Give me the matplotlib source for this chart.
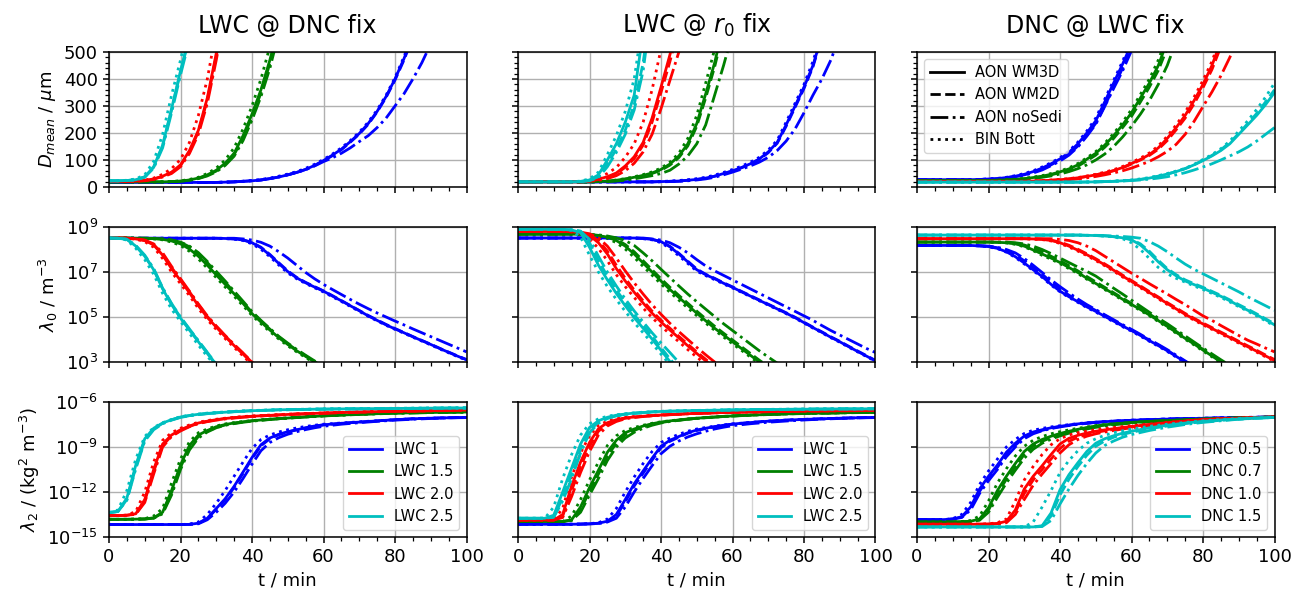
import numpy as np
import matplotlib.pyplot as plt
from matplotlib.lines import Line2D
from matplotlib.ticker import MultipleLocator, AutoMinorLocator, NullLocator, FixedLocator

# model output times (min)
t = np.arange(0, 100.01, 2.5)
t_l2 = np.r_[np.arange(0, 60.01, 2.5), np.arange(65, 100.01, 5)]

# every run: [AON WM3D, AON WM2D, AON noSedi, BIN Bott]
# Dmean (um), sampled on t until the curve leaves the 500 um axis

# LWC @ DNC fix
dm_dnc_lwc1 = [
    [17] * 13 + [18, 19, 21, 23, 26, 31, 37, 45, 54, 65, 80, 98, 118, 140, 168, 198, 235, 280, 335, 400, 475, 560],
    [17] * 13 + [18, 19, 21, 23, 26, 31, 37, 45, 54, 65, 79, 97, 116, 138, 166, 196, 232, 278, 332, 396, 470, 555],
    [17] * 13 + [18, 19, 21, 23, 26, 31, 37, 45, 54, 64, 78, 94, 108, 125, 145, 168, 190, 220, 255, 300, 345, 400, 460, 530],
    [17] * 13 + [18, 19.5, 21.5, 24, 28, 33, 40, 48, 57, 69, 84, 102, 122, 145, 172, 203, 240, 285, 340, 405, 482, 570],
]
dm_dnc_lwc15 = [
    [19] * 7 + [20, 22, 26, 33, 45, 62, 88, 125, 190, 270, 360, 470, 600],
    [19] * 7 + [20, 22, 25, 32, 43, 59, 84, 120, 182, 260, 348, 458, 590],
    [19] * 7 + [20, 21, 25, 31, 41, 56, 80, 114, 172, 248, 335, 440, 570],
    [19] * 7 + [20, 23, 28, 36, 50, 70, 100, 145, 215, 300, 400, 520],
]
dm_dnc_lwc20 = [
    [21, 21, 21, 22, 24, 30, 40, 55, 82, 135, 210, 330, 495, 680],
    [21, 21, 21, 22, 24, 29, 39, 53, 79, 130, 205, 322, 485, 670],
    [21, 21, 21, 22, 23, 28, 37, 50, 75, 124, 195, 310, 470, 650],
    [21, 21, 21, 22, 25, 33, 47, 68, 102, 165, 265, 400, 580],
]
dm_dnc_lwc25 = [
    [23, 23, 24, 27, 38, 75, 155, 290, 430, 560],
    [23, 23, 24, 27, 37, 73, 152, 285, 425, 555],
    [23, 23, 24, 26, 36, 70, 145, 275, 415, 545],
    [23, 23, 25, 30, 45, 95, 195, 340, 470, 620],
]

# LWC @ r0 fix
dm_r0_lwc1 = [
    [19] * 15 + [19, 20, 21, 22, 25, 28, 33, 40, 50, 60, 72, 86, 104, 130, 165, 230, 300, 370, 450, 560],
    [19] * 15 + [19, 20, 21, 22, 25, 28, 33, 40, 49, 59, 71, 85, 102, 127, 162, 225, 295, 365, 445, 555],
    [19] * 15 + [19, 19, 20, 21, 23, 26, 30, 36, 45, 55, 66, 78, 92, 110, 135, 170, 215, 275, 340, 400, 470, 560],
    [19] * 15 + [19.5, 20.5, 22, 24, 27, 31, 36, 44, 54, 65, 77, 92, 110, 137, 173, 240, 310, 380, 465, 570],
]
dm_r0_lwc15 = [
    [19] * 9 + [20, 22, 25, 30, 36, 43, 52, 65, 85, 115, 160, 235, 345, 460, 600],
    [19] * 9 + [20, 21, 24, 29, 34, 41, 50, 62, 81, 109, 152, 225, 330, 445, 580],
    [19] * 9 + [19, 20, 22, 25, 30, 36, 42, 50, 62, 85, 115, 160, 230, 340, 450, 570],
    [19] * 9 + [20, 22, 26, 31, 38, 46, 56, 70, 92, 125, 180, 265, 385, 510],
]
dm_r0_lwc20 = [
    [19] * 7 + [20, 23, 29, 38, 52, 78, 112, 165, 255, 370, 490, 620],
    [19] * 7 + [20, 22, 28, 36, 49, 73, 105, 155, 240, 350, 465, 590],
    [19] * 7 + [19, 21, 25, 31, 42, 60, 88, 130, 195, 290, 395, 500, 620],
    [19] * 7 + [21, 26, 35, 50, 72, 110, 160, 240, 360, 510],
]
dm_r0_lwc25 = [
    [19] * 7 + [21, 26, 45, 100, 160, 240, 340, 575],
    [19] * 7 + [20, 24, 38, 85, 140, 210, 305, 460, 700],
    [19] * 7 + [20, 23, 35, 75, 128, 195, 285, 430, 680],
    [19] * 7 + [22, 30, 55, 120, 190, 280, 400, 620],
]

# DNC @ LWC fix
dm_lwc_dnc05 = [
    [27] * 7 + [28, 29, 31, 35, 40, 47, 57, 70, 86, 104, 128, 160, 200, 245, 315, 385, 455, 530],
    [27] * 7 + [28, 29, 31, 34, 39, 45, 54, 66, 82, 100, 122, 152, 192, 236, 300, 370, 440, 515],
    [27] * 7 + [28, 29, 30, 33, 38, 44, 52, 63, 79, 96, 118, 148, 188, 232, 298, 365, 430, 505],
    [27] * 7 + [28, 30, 32, 36, 42, 50, 60, 74, 90, 108, 133, 166, 207, 255, 325, 395, 465, 545],
]
dm_lwc_dnc07 = [
    [24] * 9 + [25, 26, 28, 31, 35, 40, 47, 56, 67, 82, 103, 125, 155, 190, 230, 275, 330, 385, 450, 540],
    [24] * 9 + [25, 26, 27, 30, 34, 38, 45, 53, 63, 77, 97, 118, 147, 180, 220, 262, 315, 370, 432, 515],
    [24] * 9 + [24, 25, 27, 29, 32, 36, 41, 48, 57, 68, 82, 100, 122, 150, 185, 225, 270, 320, 380, 450, 540],
    [24] * 9 + [25, 27, 29, 32, 37, 42, 50, 59, 71, 87, 108, 131, 162, 198, 240, 287, 343, 400, 470, 560],
]
dm_lwc_dnc10 = [
    [21] * 13 + [22, 23, 25, 27, 30, 34, 39, 45, 52, 61, 72, 87, 102, 120, 145, 180, 220, 265, 320, 380, 450, 540],
    [21] * 13 + [22, 23, 25, 27, 30, 34, 39, 45, 52, 60, 71, 85, 100, 117, 140, 172, 212, 255, 308, 368, 435, 520],
    [21] * 13 + [21, 22, 23, 25, 27, 30, 34, 39, 45, 52, 60, 70, 82, 95, 112, 132, 158, 195, 243, 298, 352, 412, 480, 560],
    [21] * 13 + [22, 24, 26, 28, 31, 35, 41, 47, 55, 64, 76, 91, 107, 126, 152, 188, 230, 277, 333, 395, 465, 555],
]
dm_lwc_dnc15 = [
    [18] * 19 + [18.5, 19, 20, 21, 23, 25, 28, 33, 40, 48, 57, 68, 82, 98, 115, 135, 160, 195, 230, 265, 305, 350],
    [18] * 19 + [18.5, 19, 20, 21, 23, 25, 28, 33, 40, 48, 57, 68, 82, 99, 117, 138, 165, 198, 235, 272, 315, 360],
    [18] * 19 + [18.5, 19, 20, 21, 22, 24, 26, 29, 33, 38, 45, 53, 63, 74, 86, 100, 115, 130, 148, 170, 195, 220],
    [18] * 19 + [18.5, 19, 20, 22, 24, 26, 30, 35, 42, 50, 59, 69, 84, 102, 120, 142, 170, 207, 245, 287, 333, 385],
]

# lambda_0 as log10 (m^-3), sampled on t until it drops below 1e3

l0_dnc_lwc1 = [
    [8.50] * 13 + [8.49, 8.47, 8.42, 8.30, 8.08, 7.75, 7.38, 7.02, 6.74, 6.52, 6.33, 6.15, 5.93, 5.72, 5.50, 5.28, 5.05, 4.85, 4.65, 4.47, 4.30, 4.12, 3.95, 3.78, 3.60, 3.43, 3.26, 3.10],
    [8.50] * 13 + [8.49, 8.47, 8.43, 8.32, 8.10, 7.78, 7.41, 7.05, 6.76, 6.54, 6.35, 6.16, 5.95, 5.73, 5.51, 5.29, 5.07, 4.87, 4.67, 4.49, 4.31, 4.13, 3.96, 3.79, 3.61, 3.44, 3.27, 3.11],
    [8.50] * 15 + [8.47, 8.42, 8.32, 8.15, 7.90, 7.62, 7.30, 6.98, 6.70, 6.45, 6.22, 6.00, 5.78, 5.57, 5.37, 5.18, 5.00, 4.82, 4.65, 4.47, 4.30, 4.13, 3.96, 3.79, 3.62, 3.45],
    [8.50] * 13 + [8.48, 8.46, 8.40, 8.25, 8.01, 7.68, 7.31, 6.96, 6.70, 6.49, 6.30, 6.11, 5.90, 5.69, 5.47, 5.25, 5.03, 4.83, 4.63, 4.45, 4.28, 4.10, 3.93, 3.76, 3.58, 3.41, 3.24, 3.08],
]
l0_dnc_lwc15 = [
    [8.51, 8.51, 8.51, 8.50, 8.50, 8.48, 8.45, 8.38, 8.25, 8.02, 7.70, 7.30, 6.87, 6.45, 6.03, 5.60, 5.15, 4.78, 4.42, 4.08, 3.78, 3.50, 3.25, 3.00, 2.75],
    [8.51, 8.51, 8.51, 8.50, 8.50, 8.49, 8.47, 8.42, 8.32, 8.12, 7.82, 7.42, 6.98, 6.55, 6.10, 5.66, 5.20, 4.82, 4.46, 4.11, 3.81, 3.53, 3.27, 3.02, 2.78],
    [8.51, 8.51, 8.51, 8.50, 8.50, 8.49, 8.47, 8.42, 8.33, 8.15, 7.86, 7.47, 7.03, 6.60, 6.15, 5.70, 5.24, 4.85, 4.49, 4.14, 3.84, 3.56, 3.30, 3.05, 2.80],
    [8.51, 8.51, 8.51, 8.50, 8.49, 8.47, 8.43, 8.33, 8.18, 7.92, 7.58, 7.17, 6.75, 6.33, 5.92, 5.50, 5.07, 4.70, 4.35, 4.02, 3.72, 3.45, 3.20, 2.95],
]
l0_dnc_lwc20 = [
    [8.51, 8.51, 8.50, 8.47, 8.40, 8.20, 7.75, 7.15, 6.62, 6.08, 5.50, 4.98, 4.55, 4.13, 3.73, 3.35, 2.95],
    [8.51, 8.51, 8.50, 8.47, 8.40, 8.22, 7.80, 7.20, 6.66, 6.12, 5.55, 5.02, 4.58, 4.16, 3.76, 3.38, 2.98],
    [8.51, 8.51, 8.50, 8.48, 8.42, 8.25, 7.85, 7.25, 6.70, 6.15, 5.58, 5.05, 4.60, 4.18, 3.78, 3.40, 3.00, 2.62],
    [8.51, 8.51, 8.50, 8.46, 8.35, 8.10, 7.60, 7.00, 6.48, 5.95, 5.38, 4.88, 4.45, 4.04, 3.65, 3.27, 2.88],
]
l0_dnc_lwc25 = [
    [8.51, 8.50, 8.45, 8.15, 7.70, 7.10, 6.25, 5.55, 4.95, 4.42, 3.90, 3.38, 2.85],
    [8.51, 8.50, 8.45, 8.16, 7.72, 7.12, 6.28, 5.58, 4.98, 4.45, 3.93, 3.41, 2.88],
    [8.51, 8.50, 8.46, 8.18, 7.75, 7.15, 6.30, 5.60, 5.00, 4.47, 3.95, 3.43, 2.90],
    [8.51, 8.50, 8.42, 8.05, 7.55, 6.90, 6.05, 5.35, 4.80, 4.28, 3.75, 3.25, 2.80],
]

l0_r0_lwc1 = [
    [8.51] * 14 + [8.49, 8.45, 8.35, 8.12, 7.80, 7.45, 7.10, 6.88, 6.70, 6.50, 6.32, 6.12, 5.93, 5.74, 5.55, 5.36, 5.17, 4.97, 4.75, 4.53, 4.32, 4.10, 3.90, 3.68, 3.47, 3.26, 3.05],
    [8.51] * 14 + [8.49, 8.45, 8.36, 8.14, 7.83, 7.48, 7.13, 6.90, 6.72, 6.52, 6.34, 6.14, 5.95, 5.76, 5.57, 5.38, 5.19, 4.99, 4.77, 4.55, 4.34, 4.12, 3.92, 3.70, 3.49, 3.28, 3.07],
    [8.51] * 15 + [8.47, 8.42, 8.30, 8.10, 7.85, 7.55, 7.27, 7.05, 6.85, 6.65, 6.45, 6.25, 6.05, 5.85, 5.65, 5.45, 5.25, 5.05, 4.85, 4.62, 4.40, 4.20, 4.00, 3.80, 3.60, 3.42],
    [8.51] * 14 + [8.48, 8.43, 8.30, 8.05, 7.72, 7.38, 7.04, 6.84, 6.66, 6.47, 6.29, 6.10, 5.91, 5.72, 5.53, 5.34, 5.15, 4.95, 4.73, 4.51, 4.30, 4.08, 3.88, 3.66, 3.45, 3.24, 3.03],
]
l0_r0_lwc15 = [
    [8.68] * 8 + [8.66, 8.62, 8.55, 8.40, 8.15, 7.80, 7.40, 7.00, 6.60, 6.22, 5.87, 5.52, 5.17, 4.83, 4.50, 4.20, 3.90, 3.60, 3.30, 3.00, 2.72],
    [8.68] * 8 + [8.66, 8.63, 8.57, 8.45, 8.22, 7.90, 7.50, 7.10, 6.70, 6.32, 5.96, 5.61, 5.26, 4.92, 4.59, 4.28, 3.98, 3.68, 3.38, 3.08, 2.80],
    [8.68] * 8 + [8.67, 8.65, 8.60, 8.52, 8.40, 8.18, 7.85, 7.50, 7.12, 6.75, 6.38, 6.02, 5.68, 5.35, 5.02, 4.70, 4.40, 4.10, 3.80, 3.50, 3.22, 2.95],
    [8.68] * 8 + [8.65, 8.60, 8.50, 8.30, 8.02, 7.65, 7.25, 6.86, 6.47, 6.10, 5.75, 5.40, 5.06, 4.73, 4.41, 4.11, 3.81, 3.52, 3.22, 2.93],
]
l0_r0_lwc20 = [
    [8.80] * 6 + [8.79, 8.75, 8.62, 8.30, 7.80, 7.15, 6.60, 6.10, 5.62, 5.17, 4.78, 4.42, 4.07, 3.72, 3.38, 3.05, 2.75],
    [8.80] * 6 + [8.79, 8.76, 8.66, 8.40, 7.93, 7.30, 6.72, 6.20, 5.72, 5.26, 4.86, 4.50, 4.14, 3.79, 3.45, 3.12, 2.80],
    [8.80] * 6 + [8.79, 8.77, 8.70, 8.52, 8.15, 7.62, 7.05, 6.52, 6.02, 5.55, 5.12, 4.72, 4.35, 4.00, 3.65, 3.32, 3.00, 2.70],
    [8.80] * 6 + [8.78, 8.70, 8.48, 8.05, 7.50, 6.88, 6.35, 5.87, 5.40, 4.97, 4.60, 4.24, 3.90, 3.55, 3.22, 2.90],
]
l0_r0_lwc25 = [
    [8.90] * 5 + [8.89, 8.87, 8.75, 8.10, 7.30, 6.65, 6.05, 5.50, 4.97, 4.50, 4.02, 3.52, 3.02, 2.55],
    [8.90] * 5 + [8.89, 8.87, 8.80, 8.30, 7.50, 6.82, 6.20, 5.65, 5.10, 4.62, 4.14, 3.64, 3.14, 2.68],
    [8.90] * 5 + [8.89, 8.88, 8.82, 8.45, 7.70, 7.00, 6.38, 5.80, 5.27, 4.78, 4.30, 3.85, 3.42, 2.98, 2.55],
    [8.90] * 5 + [8.88, 8.85, 8.55, 7.75, 7.00, 6.35, 5.78, 5.25, 4.75, 4.30, 3.83, 3.35, 2.88],
]

l0_lwc_dnc05 = [
    [8.18] * 7 + [8.16, 8.13, 8.05, 7.90, 7.68, 7.40, 7.10, 6.80, 6.45, 6.15, 5.90, 5.68, 5.45, 5.25, 5.03, 4.82, 4.60, 4.40, 4.18, 3.95, 3.73, 3.50, 3.25, 3.00, 2.75],
    [8.18] * 7 + [8.16, 8.14, 8.08, 7.95, 7.76, 7.50, 7.20, 6.90, 6.56, 6.24, 5.97, 5.74, 5.50, 5.29, 5.07, 4.85, 4.63, 4.42, 4.20, 3.97, 3.75, 3.52, 3.27, 3.02, 2.77],
    [8.18] * 7 + [8.17, 8.15, 8.10, 8.00, 7.85, 7.60, 7.30, 6.98, 6.65, 6.35, 6.07, 5.80, 5.55, 5.33, 5.10, 4.88, 4.66, 4.45, 4.23, 4.00, 3.78, 3.55, 3.30, 3.05, 2.80],
    [8.18] * 7 + [8.16, 8.12, 8.04, 7.88, 7.65, 7.36, 7.06, 6.76, 6.42, 6.12, 5.87, 5.65, 5.42, 5.22, 5.00, 4.79, 4.57, 4.37, 4.15, 3.92, 3.70, 3.47, 3.22, 2.97],
]
l0_lwc_dnc07 = [
    [8.33] * 9 + [8.32, 8.30, 8.25, 8.15, 7.98, 7.80, 7.62, 7.42, 7.20, 6.98, 6.72, 6.49, 6.26, 6.03, 5.79, 5.56, 5.33, 5.09, 4.84, 4.58, 4.32, 4.05, 3.80, 3.53, 3.27, 3.00, 2.75],
    [8.33] * 9 + [8.32, 8.31, 8.28, 8.20, 8.07, 7.90, 7.70, 7.50, 7.28, 7.05, 6.80, 6.56, 6.32, 6.08, 5.84, 5.60, 5.37, 5.13, 4.88, 4.62, 4.36, 4.09, 3.83, 3.56, 3.30, 3.03, 2.78],
    [8.33] * 11 + [8.30, 8.25, 8.15, 8.00, 7.82, 7.62, 7.42, 7.22, 7.03, 6.82, 6.55, 6.28, 6.02, 5.75, 5.48, 5.21, 4.95, 4.70, 4.43, 4.16, 3.89, 3.62, 3.36, 3.10, 2.85],
    [8.33] * 9 + [8.32, 8.29, 8.23, 8.12, 7.95, 7.74, 7.57, 7.37, 7.15, 6.93, 6.68, 6.45, 6.22, 5.99, 5.75, 5.52, 5.29, 5.05, 4.80, 4.54, 4.28, 4.01, 3.76, 3.49, 3.23, 2.96],
]
l0_lwc_dnc10 = [
    [8.48] * 13 + [8.47, 8.45, 8.40, 8.30, 8.15, 7.97, 7.77, 7.55, 7.32, 7.08, 6.82, 6.58, 6.34, 6.09, 5.85, 5.60, 5.36, 5.12, 4.90, 4.69, 4.49, 4.29, 4.09, 3.88, 3.68, 3.48, 3.27, 3.07],
    [8.48] * 13 + [8.47, 8.46, 8.42, 8.33, 8.19, 8.01, 7.81, 7.59, 7.36, 7.12, 6.86, 6.62, 6.38, 6.13, 5.89, 5.64, 5.40, 5.16, 4.94, 4.73, 4.53, 4.33, 4.13, 3.92, 3.72, 3.52, 3.31, 3.11],
    [8.48] * 16 + [8.45, 8.40, 8.30, 8.15, 7.95, 7.70, 7.45, 7.20, 6.95, 6.72, 6.48, 6.25, 6.02, 5.78, 5.55, 5.30, 5.05, 4.85, 4.62, 4.40, 4.18, 3.97, 3.80, 3.62, 3.45],
    [8.48] * 13 + [8.46, 8.44, 8.38, 8.27, 8.11, 7.93, 7.73, 7.51, 7.28, 7.04, 6.78, 6.54, 6.30, 6.05, 5.81, 5.56, 5.32, 5.08, 4.86, 4.65, 4.45, 4.25, 4.05, 3.84, 3.64, 3.44, 3.23, 3.03],
]
l0_lwc_dnc15 = [
    [8.64] * 19 + [8.63, 8.62, 8.60, 8.57, 8.52, 8.43, 8.20, 7.85, 7.45, 7.10, 6.83, 6.60, 6.44, 6.28, 6.10, 5.92, 5.72, 5.50, 5.30, 5.10, 4.88, 4.65],
    [8.64] * 19 + [8.63, 8.62, 8.60, 8.57, 8.53, 8.45, 8.25, 7.92, 7.52, 7.15, 6.88, 6.65, 6.48, 6.32, 6.14, 5.96, 5.76, 5.55, 5.35, 5.14, 4.92, 4.70],
    [8.64] * 19 + [8.63, 8.63, 8.62, 8.60, 8.58, 8.55, 8.50, 8.35, 8.15, 7.90, 7.62, 7.35, 7.12, 6.92, 6.72, 6.52, 6.32, 6.12, 5.90, 5.70, 5.50, 5.30],
    [8.64] * 19 + [8.63, 8.62, 8.60, 8.56, 8.48, 8.30, 8.00, 7.60, 7.20, 6.92, 6.72, 6.55, 6.38, 6.22, 6.05, 5.87, 5.67, 5.46, 5.26, 5.05, 4.83, 4.60],
]

# lambda_2 as log10 (kg^2 m^-3), sampled on t_l2

l2_dnc_lwc1 = [
    [-14.17] * 9 + [-14.16, -14.08, -13.75, -13.10, -12.45, -11.62, -10.67, -9.70, -8.85, -8.40, -8.15, -7.98, -7.85, -7.72, -7.60, -7.52, -7.42, -7.34, -7.26, -7.18, -7.12, -7.08, -7.05, -7.03],
    [-14.17] * 9 + [-14.16, -14.09, -13.78, -13.15, -12.50, -11.70, -10.75, -9.78, -8.92, -8.45, -8.18, -8.00, -7.86, -7.73, -7.61, -7.53, -7.42, -7.34, -7.26, -7.18, -7.12, -7.08, -7.05, -7.03],
    [-14.17] * 9 + [-14.16, -14.12, -13.85, -13.35, -12.75, -12.00, -11.10, -10.15, -9.25, -8.70, -8.38, -8.15, -7.98, -7.84, -7.72, -7.62, -7.48, -7.38, -7.29, -7.21, -7.15, -7.10, -7.06, -7.04],
    [-14.17] * 9 + [-14.14, -14.00, -13.50, -12.75, -11.90, -10.95, -10.00, -9.10, -8.50, -8.20, -8.00, -7.85, -7.73, -7.63, -7.55, -7.48, -7.40, -7.32, -7.25, -7.18, -7.12, -7.08, -7.05, -7.03],
]
l2_dnc_lwc15 = [
    [-13.82, -13.82, -13.82, -13.81, -13.80, -13.72, -13.35, -11.90, -10.20, -8.90, -8.20, -7.90, -7.65, -7.50, -7.40, -7.32, -7.25, -7.20, -7.15, -7.11, -7.07, -7.03, -6.99, -6.96, -6.92, -6.87, -6.82, -6.78, -6.74, -6.72, -6.70, -6.68, -6.67],
    [-13.82, -13.82, -13.82, -13.81, -13.80, -13.74, -13.40, -12.05, -10.35, -9.05, -8.30, -7.95, -7.70, -7.53, -7.42, -7.33, -7.26, -7.21, -7.16, -7.11, -7.07, -7.03, -6.99, -6.96, -6.92, -6.87, -6.82, -6.78, -6.74, -6.72, -6.70, -6.68, -6.67],
    [-13.82, -13.82, -13.82, -13.81, -13.80, -13.75, -13.45, -12.20, -10.50, -9.20, -8.40, -8.00, -7.72, -7.55, -7.44, -7.35, -7.28, -7.22, -7.17, -7.12, -7.08, -7.04, -7.00, -6.97, -6.93, -6.88, -6.83, -6.79, -6.75, -6.73, -6.71, -6.69, -6.68],
    [-13.82, -13.82, -13.82, -13.81, -13.78, -13.60, -13.10, -11.40, -9.80, -8.65, -8.05, -7.80, -7.60, -7.46, -7.37, -7.30, -7.24, -7.19, -7.14, -7.10, -7.06, -7.02, -6.98, -6.95, -6.91, -6.86, -6.81, -6.77, -6.73, -6.71, -6.69, -6.67, -6.66],
]
l2_dnc_lwc20 = [
    [-13.57, -13.57, -13.55, -13.45, -12.50, -10.50, -8.80, -8.20, -7.85, -7.60, -7.40, -7.28, -7.18, -7.10, -7.04, -6.99, -6.95, -6.92, -6.89, -6.86, -6.83, -6.80, -6.78, -6.76, -6.74, -6.70, -6.67, -6.64, -6.62, -6.60, -6.58, -6.56, -6.54],
    [-13.57, -13.57, -13.55, -13.47, -12.60, -10.65, -8.90, -8.25, -7.90, -7.63, -7.42, -7.29, -7.19, -7.11, -7.05, -7.00, -6.96, -6.92, -6.89, -6.86, -6.83, -6.80, -6.78, -6.76, -6.74, -6.70, -6.67, -6.64, -6.62, -6.60, -6.58, -6.56, -6.54],
    [-13.57, -13.57, -13.56, -13.48, -12.70, -10.80, -9.00, -8.30, -7.93, -7.65, -7.44, -7.31, -7.21, -7.13, -7.07, -7.02, -6.97, -6.93, -6.90, -6.87, -6.84, -6.81, -6.79, -6.77, -6.75, -6.71, -6.68, -6.65, -6.63, -6.61, -6.59, -6.57, -6.55],
    [-13.57, -13.57, -13.54, -13.30, -12.00, -10.00, -8.55, -8.05, -7.75, -7.53, -7.35, -7.24, -7.15, -7.08, -7.02, -6.97, -6.93, -6.90, -6.87, -6.84, -6.81, -6.79, -6.77, -6.75, -6.73, -6.69, -6.66, -6.63, -6.61, -6.59, -6.57, -6.55, -6.53],
]
l2_dnc_lwc25 = [
    [-13.37, -13.30, -12.40, -10.20, -8.45, -7.75, -7.40, -7.18, -7.00, -6.90, -6.82, -6.76, -6.72, -6.68, -6.64, -6.61, -6.58, -6.56, -6.54, -6.52, -6.51, -6.50, -6.49, -6.48, -6.47, -6.46, -6.45, -6.44, -6.43, -6.42, -6.41, -6.40, -6.40],
    [-13.37, -13.30, -12.50, -10.35, -8.55, -7.80, -7.42, -7.19, -7.01, -6.91, -6.83, -6.77, -6.72, -6.68, -6.64, -6.61, -6.58, -6.56, -6.54, -6.52, -6.51, -6.50, -6.49, -6.48, -6.47, -6.46, -6.45, -6.44, -6.43, -6.42, -6.41, -6.40, -6.40],
    [-13.37, -13.30, -12.55, -10.45, -8.60, -7.85, -7.45, -7.21, -7.03, -6.92, -6.84, -6.78, -6.73, -6.69, -6.65, -6.62, -6.59, -6.57, -6.55, -6.53, -6.52, -6.51, -6.50, -6.49, -6.48, -6.47, -6.46, -6.45, -6.44, -6.43, -6.42, -6.41, -6.41],
    [-13.37, -13.20, -11.90, -9.80, -8.30, -7.70, -7.38, -7.16, -6.98, -6.88, -6.80, -6.74, -6.70, -6.66, -6.62, -6.59, -6.57, -6.55, -6.53, -6.51, -6.50, -6.49, -6.48, -6.47, -6.46, -6.45, -6.44, -6.43, -6.42, -6.41, -6.40, -6.39, -6.38],
]

l2_r0_lwc1 = [
    [-14.15] * 7 + [-14.14, -14.12, -14.08, -13.95, -13.50, -12.50, -11.45, -10.60, -9.75, -8.95, -8.55, -8.30, -8.05, -7.87, -7.75, -7.64, -7.55, -7.47, -7.37, -7.28, -7.21, -7.16, -7.12, -7.08, -7.05, -7.03],
    [-14.15] * 7 + [-14.14, -14.12, -14.09, -13.98, -13.60, -12.65, -11.60, -10.75, -9.88, -9.05, -8.62, -8.35, -8.08, -7.90, -7.77, -7.66, -7.56, -7.48, -7.37, -7.28, -7.21, -7.16, -7.12, -7.08, -7.05, -7.03],
    [-14.15] * 7 + [-14.14, -14.13, -14.10, -14.00, -13.75, -13.00, -12.00, -11.10, -10.25, -9.45, -8.95, -8.60, -8.33, -8.12, -7.95, -7.80, -7.68, -7.58, -7.45, -7.35, -7.27, -7.20, -7.14, -7.10, -7.06, -7.04],
    [-14.15] * 7 + [-14.14, -14.11, -14.05, -13.80, -13.10, -12.00, -11.00, -10.10, -9.30, -8.70, -8.40, -8.15, -7.95, -7.80, -7.70, -7.61, -7.53, -7.46, -7.36, -7.28, -7.21, -7.16, -7.12, -7.08, -7.05, -7.03],
]
l2_r0_lwc15 = [
    [-13.97] * 6 + [-13.85, -13.00, -11.70, -10.55, -9.35, -8.55, -8.05, -7.80, -7.60, -7.45, -7.34, -7.26, -7.20, -7.13, -7.08, -7.04, -7.00, -6.96, -6.93, -6.87, -6.83, -6.79, -6.76, -6.74, -6.72, -6.70, -6.69],
    [-13.97] * 6 + [-13.88, -13.20, -11.95, -10.80, -9.60, -8.75, -8.20, -7.90, -7.66, -7.49, -7.37, -7.28, -7.21, -7.14, -7.09, -7.04, -7.00, -6.96, -6.93, -6.87, -6.83, -6.79, -6.76, -6.74, -6.72, -6.70, -6.69],
    [-13.97] * 6 + [-13.90, -13.35, -12.20, -11.10, -9.90, -9.00, -8.40, -8.02, -7.75, -7.55, -7.40, -7.30, -7.22, -7.15, -7.10, -7.05, -7.01, -6.97, -6.94, -6.88, -6.84, -6.80, -6.77, -6.75, -6.73, -6.71, -6.70],
    [-13.97] * 6 + [-13.60, -12.50, -11.20, -10.00, -8.90, -8.25, -7.90, -7.70, -7.55, -7.42, -7.32, -7.25, -7.19, -7.13, -7.08, -7.04, -7.00, -6.96, -6.93, -6.87, -6.83, -6.79, -6.76, -6.74, -6.72, -6.70, -6.69],
]
l2_r0_lwc20 = [
    [-13.87] * 5 + [-13.50, -11.60, -10.00, -8.70, -7.78, -7.38, -7.18, -7.06, -7.00, -6.95, -6.91, -6.87, -6.84, -6.81, -6.78, -6.76, -6.74, -6.72, -6.70, -6.69, -6.66, -6.64, -6.62, -6.60, -6.59, -6.58, -6.57, -6.56],
    [-13.87] * 5 + [-13.60, -11.90, -10.30, -8.95, -7.95, -7.45, -7.22, -7.08, -7.01, -6.96, -6.91, -6.87, -6.84, -6.81, -6.78, -6.76, -6.74, -6.72, -6.70, -6.69, -6.66, -6.64, -6.62, -6.60, -6.59, -6.58, -6.57, -6.56],
    [-13.87] * 5 + [-13.70, -12.30, -10.70, -9.30, -8.20, -7.60, -7.30, -7.12, -7.03, -6.97, -6.92, -6.88, -6.85, -6.82, -6.79, -6.77, -6.75, -6.73, -6.71, -6.70, -6.67, -6.65, -6.63, -6.61, -6.60, -6.59, -6.58, -6.57],
    [-13.87] * 5 + [-13.10, -11.00, -9.40, -8.25, -7.55, -7.28, -7.12, -7.03, -6.97, -6.93, -6.89, -6.86, -6.83, -6.80, -6.77, -6.75, -6.73, -6.71, -6.69, -6.68, -6.65, -6.63, -6.61, -6.59, -6.58, -6.57, -6.56, -6.55],
]
l2_r0_lwc25 = [
    [-13.75] * 4 + [-13.55, -12.00, -10.40, -8.80, -7.70, -7.25, -7.02, -6.88, -6.80, -6.74, -6.70, -6.66, -6.63, -6.61, -6.60, -6.58, -6.57, -6.56, -6.55, -6.54, -6.53, -6.51, -6.50, -6.49, -6.48, -6.47, -6.46, -6.46, -6.45],
    [-13.75] * 4 + [-13.65, -12.40, -10.80, -9.15, -7.90, -7.35, -7.07, -6.91, -6.82, -6.75, -6.70, -6.66, -6.63, -6.61, -6.60, -6.58, -6.57, -6.56, -6.55, -6.54, -6.53, -6.51, -6.50, -6.49, -6.48, -6.47, -6.46, -6.46, -6.45],
    [-13.75] * 4 + [-13.68, -12.60, -11.10, -9.40, -8.05, -7.42, -7.10, -6.93, -6.83, -6.76, -6.71, -6.67, -6.64, -6.62, -6.60, -6.58, -6.57, -6.56, -6.55, -6.54, -6.53, -6.51, -6.50, -6.49, -6.48, -6.47, -6.46, -6.46, -6.45],
    [-13.75] * 4 + [-13.00, -11.10, -9.50, -8.20, -7.45, -7.12, -6.95, -6.85, -6.78, -6.72, -6.68, -6.65, -6.62, -6.60, -6.59, -6.57, -6.56, -6.55, -6.54, -6.53, -6.52, -6.50, -6.49, -6.48, -6.47, -6.46, -6.45, -6.45, -6.44],
]

l2_lwc_dnc05 = [
    [-13.84] * 4 + [-13.80, -13.65, -13.00, -11.80, -10.95, -10.20, -9.35, -8.75, -8.27, -8.00, -7.85, -7.72, -7.62, -7.54, -7.46, -7.40, -7.35, -7.31, -7.28, -7.25, -7.22, -7.18, -7.14, -7.11, -7.09, -7.06, -7.04, -7.02, -7.00],
    [-13.84] * 4 + [-13.80, -13.68, -13.10, -11.95, -11.10, -10.35, -9.50, -8.88, -8.36, -8.06, -7.89, -7.75, -7.64, -7.55, -7.47, -7.41, -7.36, -7.32, -7.28, -7.25, -7.22, -7.18, -7.14, -7.11, -7.09, -7.06, -7.04, -7.02, -7.00],
    [-13.84] * 4 + [-13.81, -13.70, -13.20, -12.10, -11.25, -10.50, -9.65, -9.00, -8.45, -8.12, -7.92, -7.77, -7.66, -7.57, -7.49, -7.42, -7.37, -7.32, -7.29, -7.26, -7.23, -7.18, -7.14, -7.11, -7.09, -7.06, -7.04, -7.02, -7.00],
    [-13.84] * 4 + [-13.78, -13.50, -12.70, -11.50, -10.60, -9.80, -9.00, -8.50, -8.10, -7.88, -7.76, -7.66, -7.58, -7.51, -7.44, -7.38, -7.34, -7.30, -7.27, -7.24, -7.21, -7.17, -7.13, -7.10, -7.08, -7.05, -7.03, -7.01, -7.00],
]
l2_lwc_dnc07 = [
    [-14.00] * 5 + [-13.98, -13.95, -13.80, -13.05, -11.90, -10.95, -10.10, -9.30, -8.80, -8.50, -8.28, -8.10, -7.95, -7.82, -7.70, -7.60, -7.52, -7.46, -7.41, -7.36, -7.29, -7.24, -7.19, -7.14, -7.10, -7.06, -7.03, -7.00],
    [-14.00] * 5 + [-13.98, -13.96, -13.85, -13.20, -12.10, -11.15, -10.30, -9.50, -8.95, -8.62, -8.38, -8.18, -8.01, -7.86, -7.73, -7.62, -7.54, -7.47, -7.42, -7.37, -7.29, -7.24, -7.19, -7.14, -7.10, -7.06, -7.03, -7.00],
    [-14.00] * 5 + [-13.99, -13.97, -13.88, -13.35, -12.35, -11.40, -10.55, -9.75, -9.15, -8.75, -8.48, -8.26, -8.08, -7.94, -7.80, -7.69, -7.60, -7.52, -7.46, -7.41, -7.32, -7.26, -7.20, -7.15, -7.11, -7.07, -7.03, -7.01],
    [-14.00] * 5 + [-13.97, -13.90, -13.60, -12.60, -11.40, -10.45, -9.60, -8.95, -8.55, -8.30, -8.12, -7.98, -7.86, -7.75, -7.66, -7.57, -7.50, -7.45, -7.40, -7.36, -7.29, -7.24, -7.19, -7.14, -7.10, -7.06, -7.03, -7.00],
]
l2_lwc_dnc10 = [
    [-14.15] * 8 + [-14.14, -14.10, -13.95, -13.20, -11.80, -10.95, -10.25, -9.50, -8.80, -8.42, -8.22, -8.07, -7.95, -7.86, -7.78, -7.70, -7.63, -7.50, -7.38, -7.27, -7.18, -7.12, -7.08, -7.04, -7.00],
    [-14.15] * 8 + [-14.14, -14.11, -14.00, -13.35, -12.10, -11.20, -10.50, -9.80, -9.10, -8.62, -8.35, -8.17, -8.03, -7.92, -7.83, -7.74, -7.66, -7.52, -7.39, -7.28, -7.19, -7.13, -7.08, -7.04, -7.00],
    [-14.15] * 8 + [-14.14, -14.12, -14.05, -13.50, -12.50, -11.55, -10.80, -10.10, -9.40, -8.85, -8.50, -8.28, -8.12, -8.00, -7.90, -7.80, -7.72, -7.58, -7.45, -7.33, -7.23, -7.15, -7.09, -7.05, -7.01],
    [-14.15] * 8 + [-14.12, -14.05, -13.80, -12.60, -11.20, -10.30, -9.50, -8.85, -8.45, -8.20, -8.05, -7.94, -7.85, -7.77, -7.70, -7.64, -7.58, -7.47, -7.36, -7.26, -7.18, -7.12, -7.07, -7.03, -7.00],
]
l2_lwc_dnc15 = [
    [-14.33] * 14 + [-14.25, -13.40, -11.85, -10.85, -10.05, -9.30, -8.75, -8.45, -8.25, -8.08, -7.95, -7.72, -7.55, -7.40, -7.29, -7.20, -7.13, -7.07, -7.03],
    [-14.33] * 14 + [-14.28, -13.60, -12.20, -11.15, -10.30, -9.55, -8.95, -8.60, -8.35, -8.16, -8.02, -7.78, -7.60, -7.44, -7.32, -7.22, -7.14, -7.08, -7.03],
    [-14.33] * 14 + [-14.30, -13.90, -12.80, -11.80, -10.90, -10.10, -9.40, -8.90, -8.60, -8.35, -8.17, -7.90, -7.68, -7.50, -7.36, -7.25, -7.15, -7.08, -7.03],
    [-14.33] * 13 + [-14.00, -13.00, -11.90, -10.70, -9.90, -9.25, -8.75, -8.45, -8.22, -8.05, -7.92, -7.80, -7.62, -7.48, -7.36, -7.25, -7.17, -7.10, -7.05, -7.02],
]

colors = ['b', 'g', 'r', 'c']
linestyles = ['-', '--', '-.', ':']
models = ['AON WM3D', 'AON WM2D', 'AON noSedi', 'BIN Bott']
lwc_labels = ['LWC 1', 'LWC 1.5', 'LWC 2.0', 'LWC 2.5']
dnc_labels = ['DNC 0.5', 'DNC 0.7', 'DNC 1.0', 'DNC 1.5']
titles = ['LWC @ DNC fix', 'LWC @ $r_0$ fix', 'DNC @ LWC fix']

runs = [
    [[dm_dnc_lwc1, dm_dnc_lwc15, dm_dnc_lwc20, dm_dnc_lwc25],
     [dm_r0_lwc1, dm_r0_lwc15, dm_r0_lwc20, dm_r0_lwc25],
     [dm_lwc_dnc05, dm_lwc_dnc07, dm_lwc_dnc10, dm_lwc_dnc15]],
    [[l0_dnc_lwc1, l0_dnc_lwc15, l0_dnc_lwc20, l0_dnc_lwc25],
     [l0_r0_lwc1, l0_r0_lwc15, l0_r0_lwc20, l0_r0_lwc25],
     [l0_lwc_dnc05, l0_lwc_dnc07, l0_lwc_dnc10, l0_lwc_dnc15]],
    [[l2_dnc_lwc1, l2_dnc_lwc15, l2_dnc_lwc20, l2_dnc_lwc25],
     [l2_r0_lwc1, l2_r0_lwc15, l2_r0_lwc20, l2_r0_lwc25],
     [l2_lwc_dnc05, l2_lwc_dnc07, l2_lwc_dnc10, l2_lwc_dnc15]],
]
times = [t, t, t_l2]

plt.rcParams['axes.linewidth'] = 1.1
plt.rcParams['xtick.major.size'] = 4.5
plt.rcParams['ytick.major.size'] = 4.5
plt.rcParams['xtick.minor.size'] = 2.6
plt.rcParams['ytick.minor.size'] = 2.6
plt.rcParams['xtick.major.width'] = 1.1
plt.rcParams['ytick.major.width'] = 1.1
plt.rcParams['xtick.minor.width'] = 0.9
plt.rcParams['ytick.minor.width'] = 0.9

fig, axs = plt.subplots(3, 3, figsize=(13.04, 6.01), dpi=100, sharex=True, sharey='row')

W, H = 1304.0, 601.0
col_left = [109, 518, 917]
row_top = [52, 227, 402]
for r in range(3):
    for c in range(3):
        axs[r, c].set_position([col_left[c] / W, 1 - (row_top[r] + 135) / H, 357.5 / W, 135 / H])

for r in range(3):
    for c in range(3):
        ax = axs[r, c]
        tt = times[r]
        for i, col in enumerate(colors):
            for j, ls in enumerate(linestyles):
                v = np.array(runs[r][c][i][j], dtype=float)
                if r > 0:
                    v = 10.0 ** v
                ax.plot(tt[:len(v)], v, color=col, ls=ls, lw=2)
        ax.grid(True, color='#b0b0b0', lw=1.0)
        ax.tick_params(labelsize=13)

for c in range(3):
    axs[0, c].set_title(titles[c], fontsize=17, pad=14)
    axs[2, c].set_xlabel('t / min', fontsize=13)

ax = axs[0, 0]
ax.set_xlim(0, 100)
ax.xaxis.set_major_locator(MultipleLocator(20))
ax.xaxis.set_minor_locator(MultipleLocator(5))

ax.set_ylim(0, 500)
ax.yaxis.set_major_locator(MultipleLocator(100))
ax.yaxis.set_minor_locator(AutoMinorLocator(5))
ax.set_ylabel('$D_{mean}$ / $\\mu$m', fontsize=13)

ax = axs[1, 0]
ax.set_yscale('log')
ax.set_ylim(1e3, 1e9)
ax.yaxis.set_major_locator(FixedLocator([1e3, 1e5, 1e7, 1e9]))
ax.yaxis.set_minor_locator(NullLocator())
ax.set_ylabel('$\\lambda_0$ / m$^{-3}$', fontsize=13)

ax = axs[2, 0]
ax.set_yscale('log')
ax.set_ylim(1e-15, 1e-6)
ax.yaxis.set_major_locator(FixedLocator([1e-15, 1e-12, 1e-9, 1e-6]))
ax.yaxis.set_minor_locator(NullLocator())
ax.set_ylabel('$\\lambda_2$ / (kg$^2$ m$^{-3}$)', fontsize=13)

for r in range(3):
    for c in range(1, 3):
        axs[r, c].tick_params(labelleft=False)

# model legend
h_models = [Line2D([], [], color='k', ls=ls, lw=2) for ls in linestyles]
axs[0, 2].legend(h_models, models, loc='upper left', fontsize=10.5, handlelength=2.3)

# run legends
h_runs = [Line2D([], [], color=col, lw=2) for col in colors]
for c in range(3):
    labels = dnc_labels if c == 2 else lwc_labels
    axs[2, c].legend(h_runs, labels, loc='lower right', fontsize=10.5, handlelength=2.3)

fig.savefig('out.png', dpi=100)
